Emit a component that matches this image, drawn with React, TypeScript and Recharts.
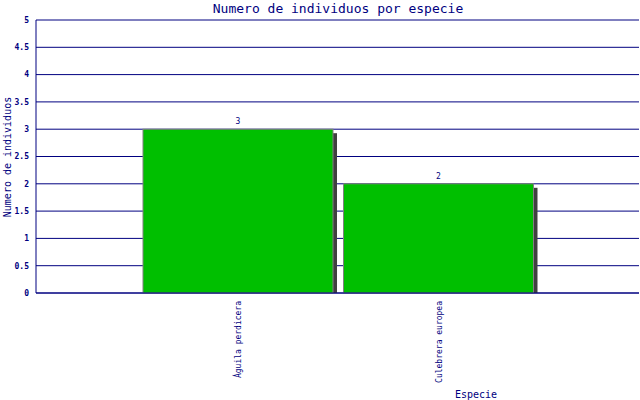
import React from "react"
import { BarChart, Bar, XAxis, YAxis, CartesianGrid, LabelList } from "recharts"

const species = ["Águila perdicera", "Culebrera europea"]
const counts = [3, 2]
const yTicks = [0, 0.5, 1, 1.5, 2, 2.5, 3, 3.5, 4, 4.5, 5]

const data = species.map((name, i) => ({ name, value: counts[i] }))

const NAVY = "#000080"
const FONT = "'DejaVu Sans Mono', monospace"

// bar with a dark drop shadow on the right
const ShadowBar = (props: any) => {
  const { x, y, width, height } = props
  if (!height) return null
  return (
    <g>
      <rect x={x + 4} y={y + 4} width={width} height={height - 4} fill="#404040" />
      <rect x={x} y={y} width={width} height={height} fill="#00bf00" stroke="#808080" strokeWidth={1} />
    </g>
  )
}

const SpeciesTick = (props: any) => {
  const { x, y, payload } = props
  return (
    <text
      transform={`translate(${x + 3},${y}) rotate(-90)`}
      textAnchor="end"
      fontSize={8}
      fontFamily={FONT}
      fill={NAVY}
    >
      {payload.value}
    </text>
  )
}

export default function App() {
  return (
    <div style={{ position: "absolute", left: 0, top: 0, width: 640, height: 400, background: "#fff" }}>
      <svg width={640} height={400} style={{ position: "absolute", left: 0, top: 0 }}>
        <text x={338} y={13} textAnchor="middle" fontSize={13} fontFamily={FONT} fill={NAVY}>
          Numero de individuos por especie
        </text>
        <text
          transform="translate(11,157) rotate(-90)"
          textAnchor="middle"
          fontSize={10}
          fontFamily={FONT}
          fill={NAVY}
        >
          Numero de individuos
        </text>
        <text x={476} y={398} textAnchor="middle" fontSize={10} fontFamily={FONT} fill={NAVY}>
          Especie
        </text>
      </svg>
      <div style={{ position: "absolute", left: 0, top: 0 }}>
        <BarChart
          width={640}
          height={400}
          data={data}
          margin={{ top: 20, right: 1, bottom: 7, left: 0 }}
          barSize={190}
        >
          <CartesianGrid vertical={false} stroke={NAVY} strokeWidth={1} />
          <XAxis
            dataKey="name"
            height={100}
            padding={{ left: 102, right: 100 }}
            axisLine={{ stroke: NAVY }}
            tickLine={false}
            interval={0}
            tick={<SpeciesTick />}
          />
          <YAxis
            width={36}
            domain={[0, 5]}
            ticks={yTicks}
            axisLine={{ stroke: NAVY }}
            tickLine={false}
            tick={{ fontSize: 8, fontFamily: FONT, fill: NAVY, fontWeight: "bold" }}
            tickMargin={1}
          />
          <YAxis
            yAxisId="right"
            orientation="right"
            width={0}
            domain={[0, 5]}
            tick={false}
            tickLine={false}
            axisLine={{ stroke: NAVY }}
          />
          <Bar dataKey="value" shape={<ShadowBar />} isAnimationActive={false}>
            <LabelList
              dataKey="value"
              position="top"
              offset={5}
              fontSize={8}
              fontFamily={FONT}
              fill={NAVY}
            />
          </Bar>
        </BarChart>
      </div>
    </div>
  )
}
